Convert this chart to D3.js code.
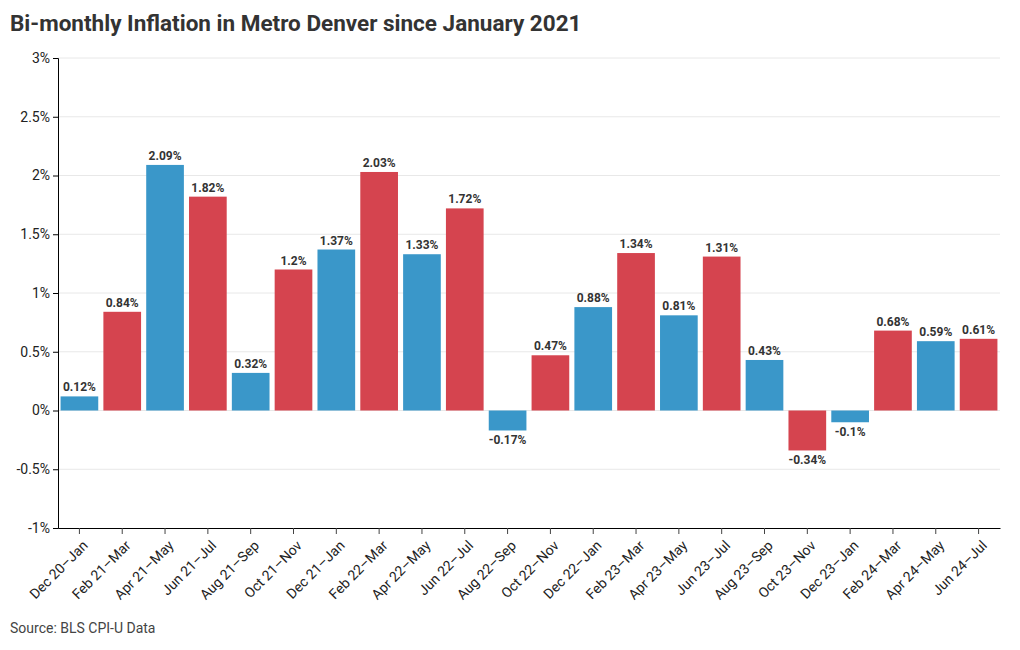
<!DOCTYPE html>
<html><head><meta charset="utf-8">
<script src="https://cdn.jsdelivr.net/npm/d3@7"></script>
<style>
body{margin:0;background:#fff;font-family:Roboto,"Noto Sans",sans-serif;}
</style></head>
<body>
<svg id="chart" width="1020" height="650"></svg>
<script>
const categories = ["Dec 20\u2013Jan","Feb 21\u2013Mar","Apr 21\u2013May","Jun 21\u2013Jul","Aug 21\u2013Sep","Oct 21\u2013Nov","Dec 21\u2013Jan","Feb 22\u2013Mar","Apr 22\u2013May","Jun 22\u2013Jul","Aug 22\u2013Sep","Oct 22\u2013Nov","Dec 22\u2013Jan","Feb 23\u2013Mar","Apr 23\u2013May","Jun 23\u2013Jul","Aug 23\u2013Sep","Oct 23\u2013Nov","Dec 23\u2013Jan","Feb 24\u2013Mar","Apr 24\u2013May","Jun 24\u2013Jul"];
const values = [0.12,0.84,2.09,1.82,0.32,1.2,1.37,2.03,1.33,1.72,-0.17,0.47,0.88,1.34,0.81,1.31,0.43,-0.34,-0.1,0.68,0.59,0.61];
const yTicks = [-1,-0.5,0,0.5,1,1.5,2,2.5,3];
const colors = ["#3a97c9","#d5444f"];

const svg = d3.select("#chart");
const m = {left:58, right:1000, top:58, bottom:528};
const x = d3.scaleBand().domain(categories).range([m.left, m.right]).paddingInner(0.12).paddingOuter(0.06);
const y = d3.scaleLinear().domain([-1,3]).range([m.bottom, m.top]);

svg.append("text").attr("x",10).attr("y",31).attr("font-size",22.5).attr("font-weight",700)
  .attr("fill","#333").text("Bi-monthly Inflation in Metro Denver since January 2021");

// gridlines
svg.append("g").selectAll("line").data(yTicks.filter(d=>d!==-1)).join("line")
  .attr("x1",m.left).attr("x2",m.right).attr("y1",d=>y(d)).attr("y2",d=>y(d))
  .attr("stroke","#e8e8e8").attr("stroke-width",1);

// bars
svg.append("g").selectAll("rect").data(values).join("rect")
  .attr("x",(d,i)=>x(categories[i])).attr("width",x.bandwidth())
  .attr("y",d=>y(Math.max(0,d))).attr("height",d=>Math.abs(y(d)-y(0)))
  .attr("fill",(d,i)=>colors[i%2]);

// value labels
svg.append("g").selectAll("text").data(values).join("text")
  .attr("x",(d,i)=>x(categories[i])+x.bandwidth()/2)
  .attr("y",d=> d>=0 ? y(d)-5 : y(d)+14)
  .attr("text-anchor","middle").attr("font-size",12).attr("font-weight",700).attr("fill","#333")
  .text(d=>d+"%");

// y axis
const yAxis = d3.axisLeft(y).tickValues(yTicks).tickSize(5).tickPadding(3).tickFormat(d=>d+"%");
const gy = svg.append("g").attr("transform",`translate(${m.left},0)`).call(yAxis);
gy.select(".domain").attr("stroke","#000");
gy.selectAll("text").attr("font-size",14).attr("fill","#222").attr("font-family","Roboto");

// x axis
const xAxis = d3.axisBottom(x).tickSize(6).tickSizeOuter(0);
const gx = svg.append("g").attr("transform",`translate(0,${m.bottom})`).call(xAxis);
gx.select(".domain").attr("stroke","#000");
gx.selectAll("line").attr("stroke","#444");
gx.selectAll("text").attr("font-size",14).attr("fill","#222").attr("font-family","Roboto")
  .attr("text-anchor","end").attr("dy","0").attr("dx","0")
  .attr("transform","translate(3,12) rotate(-45)");

svg.append("text").attr("x",10).attr("y",633).attr("font-size",14).attr("fill","#444")
  .text("Source: BLS CPI-U Data");
</script>
</body></html>
